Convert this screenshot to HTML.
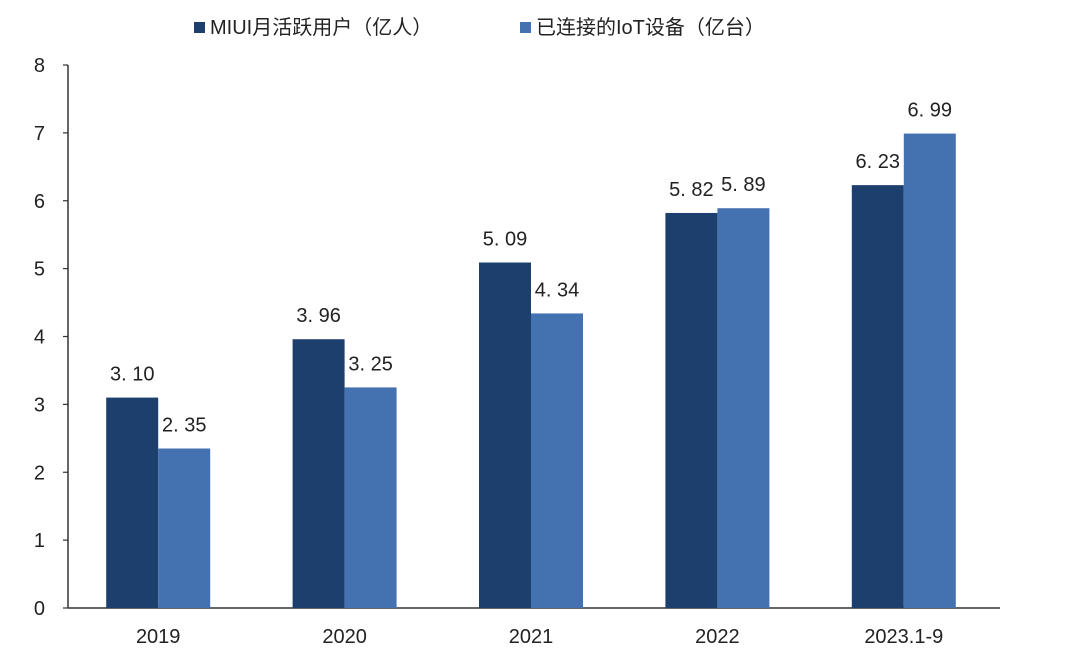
<!DOCTYPE html>
<html><head><meta charset="utf-8"><style>
body{margin:0;background:#fff;}
svg text{font-family:"Liberation Sans","Noto Sans CJK SC",sans-serif;fill:#222;}
</style></head><body>
<svg width="1080" height="667">
<g id="legend">
<rect x="194" y="22" width="11" height="11" fill="#1c3f6e"/>
<text x="210" y="34" font-size="20">MIUI月活跃用户（亿人）</text>
<rect x="520" y="22" width="11" height="11" fill="#4472b0"/>
<text x="536" y="34" font-size="20">已连接的IoT设备（亿台）</text>
</g>
<g id="axes"></g>
<g id="bars"></g>
</svg>
<script>
const categories=["2019","2020","2021","2022","2023.1-9"];
const miui=[3.10,3.96,5.09,5.82,6.23];
const iot=[2.35,3.25,4.34,5.89,6.99];
const yTicks=[0,1,2,3,4,5,6,7,8];
const NS="http://www.w3.org/2000/svg";
const x0=68,x1=1000,y0=608,yTop=65,yMax=8;
const y=v=>y0-(v/yMax)*(y0-yTop);
const band=(x1-x0)/categories.length;
const cx=i=>x0+band*(i+0.5)-3;
const bw=52;
function mk(t,a,p){const e=document.createElementNS(NS,t);for(const k in a)e.setAttribute(k,a[k]);p.appendChild(e);return e;}
const ax=document.getElementById('axes'),bg=document.getElementById('bars');
const yl=mk('line',{x1:x0,y1:yTop,x2:x0,y2:y0,stroke:'#333','stroke-width':1.5},ax);


const xl=mk('line',{x1:x0,y1:y0,x2:x1,y2:y0,stroke:'#333','stroke-width':1.5},ax);


yTicks.forEach(t=>{
 const tk=mk('line',{x1:x0-5,y1:y(t),x2:x0,y2:y(t),stroke:'#333','stroke-width':1.2},ax);
 
 
 const tx=mk('text',{x:45,y:y(t)+7,'font-size':20,'text-anchor':'end'},ax);
 tx.textContent=t;
 
 
});
categories.forEach((c,i)=>{
 const tx=mk('text',{x:cx(i),y:643,'font-size':20,'text-anchor':'middle'},ax);
 tx.textContent=c;
 
 
 const r1=mk('rect',{x:cx(i)-bw,y:y(miui[i]),width:bw,height:y0-y(miui[i]),fill:'#1c3f6e'},bg);
 
 
 const r2=mk('rect',{x:cx(i),y:y(iot[i]),width:bw,height:y0-y(iot[i]),fill:'#4472b0'},bg);
 
 
 const l1=mk('text',{x:cx(i)-bw/2,y:y(miui[i])-17,'font-size':20,'text-anchor':'middle'},bg);
 l1.textContent=miui[i].toFixed(2).replace('.','. ');
 
 
 const l2=mk('text',{x:cx(i)+bw/2,y:y(iot[i])-17,'font-size':20,'text-anchor':'middle'},bg);
 l2.textContent=iot[i].toFixed(2).replace('.','. ');
 
 
});
</script>
</body></html>
